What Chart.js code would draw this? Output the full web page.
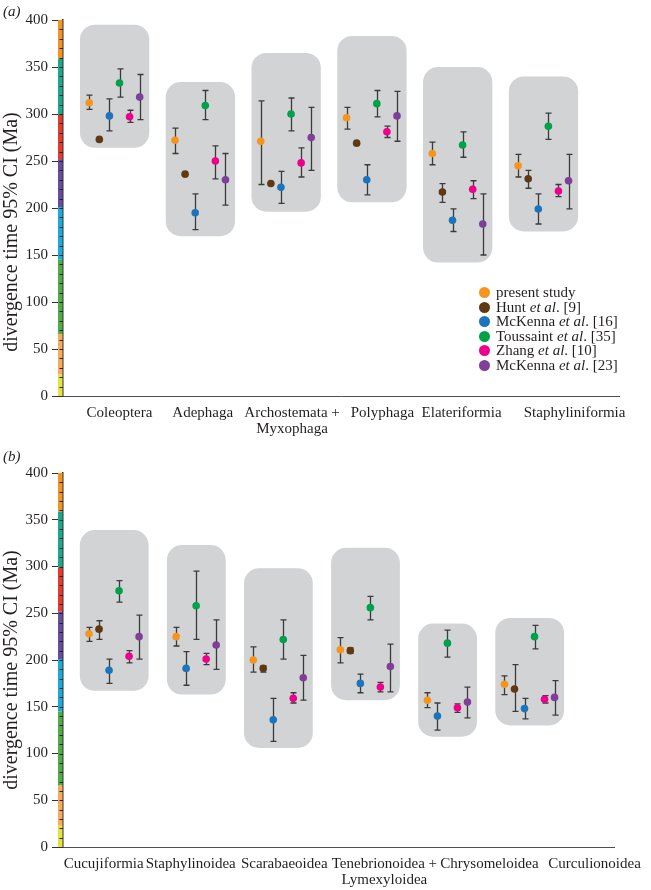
<!DOCTYPE html>
<html><head><meta charset="utf-8">
<script src="https://cdn.jsdelivr.net/npm/chart.js@4/dist/chart.umd.min.js"></script>
<style>
html,body{margin:0;padding:0;background:#fff;}
body{width:651px;height:890px;position:relative;overflow:hidden;font-family:"Liberation Serif","Times New Roman",serif;color:#231F20;}
.panel{position:absolute;left:0;width:651px;height:445px;}
#pa{top:0}#pb{top:445px}
.tag{position:absolute;left:3px;font-style:italic;font-size:15px;line-height:15px;}
#legend{position:absolute;left:0;top:0;font-size:15px;}
#legend .row{position:absolute;left:479px;white-space:nowrap;line-height:15px;height:15px;}
#legend .dot{position:absolute;left:0;top:2px;width:11px;height:11px;border-radius:50%;}
#legend .txt{position:absolute;left:17px;top:0;}
</style></head>
<body>
<div class="panel" id="pa"><canvas id="ca"></canvas></div>
<div class="panel" id="pb"><canvas id="cb"></canvas></div>
<div class="tag" style="top:4px">(a)</div>
<div class="tag" style="top:449px">(b)</div>
<div id="legend"></div>
<script>
// ---------- data ----------
const seriesHTML = ['present study','Hunt <i>et al</i>. [9]','McKenna <i>et al</i>. [16]','Toussaint <i>et al</i>. [35]','Zhang <i>et al</i>. [10]','McKenna <i>et al</i>. [23]'];
const seriesNames = ['present study','Hunt et al. [9]','McKenna et al. [16]','Toussaint et al. [35]','Zhang et al. [10]','McKenna et al. [23]'];
const seriesColors = ['#F7941D','#603913','#1C75BC','#00A14B','#EC008C','#7F3F98'];

// panel (a)
const catsA = ['Coleoptera','Adephaga',['Archostemata +','Myxophaga'],'Polyphaga','Elateriformia','Staphyliniformia'];
const presentA  = [312, 272, 271, 296, 258, 245];
const presentA_ci = [[305,320],[258,285],[225,314],[284,307],[246,270],[233,257]];
const huntA     = [273, 236, 226, 269, 217, 231];
const huntA_ci  = [null,null,null,null,[206,226],[221,240]];
const mck16A    = [298, 195, 222, 230, 187, 199];
const mck16A_ci = [[282,316],[177,215],[205,239],[214,246],[175,199],[183,215]];
const tousA     = [333, 309, 300, 311, 267, 287];
const tousA_ci  = [[318,348],[294,325],[282,317],[297,325],[254,281],[273,301]];
const zhangA    = [297, 250, 248, 281, 220, 218];
const zhangA_ci = [[291,304],[231,266],[233,264],[275,287],[210,229],[212,225]];
const mck23A    = [318, 230, 275, 298, 183, 229];
const mck23A_ci = [[294,342],[203,258],[240,307],[271,324],[150,215],[199,257]];
const rangeA    = [[264,395],[170,334],[196,365],[206,383],[142,350],[175,340]];

// panel (b)
const catsB = ['Cucujiformia','Staphylinoidea','Scarabaeoidea',['Tenebrionoidea +','Lymexyloidea'],'Chrysomeloidea','Curculionoidea'];
const presentB  = [228, 225, 200, 211, 157, 174];
const presentB_ci = [[220,235],[215,235],[187,214],[197,224],[149,165],[163,183]];
const huntB     = [233, null, 191, 210, null, 169];
const huntB_ci  = [[222,242],null,[187,194],[207,213],null,[145,195]];
const mck16B    = [189, 191, 136, 175, 140, 148];
const mck16B_ci = [[175,201],[173,209],[113,159],[165,185],[125,154],[137,159]];
const tousB     = [274, 258, 222, 256, 218, 225];
const tousB_ci  = [[262,285],[222,295],[201,243],[243,268],[203,232],[212,237]];
const zhangB    = [204, 201, 159, 171, 149, 158];
const zhangB_ci = [[197,210],[195,207],[154,165],[166,176],[144,153],[154,162]];
const mck23B    = [225, 216, 181, 193, 155, 160];
const mck23B_ci = [[201,248],[190,243],[157,205],[166,217],[138,171],[141,178]];
const rangeB    = [[167,339],[163,323],[106,298],[157,320],[118,239],[130,245]];

// y ticks and geological time scale (Ma boundaries) for the colour bar
const yTicks = [0,50,100,150,200,250,300,350,400];
const geoBounds = [0, 23, 66, 145, 201, 252, 299, 359, 400];
const geoColors = ['#E6E23A','#F9AC55','#4EAE45','#17ADDB','#6A4C9E','#E9392C','#19A98D','#F7941D'];
const yTitle = 'divergence time 95% CI (Ma)';

// ---------- layout (not data) ----------
const FONT = '"Liberation Serif","Times New Roman",serif';
const TEXT = '#231F20';
const labelShiftA = [0.5, 0.25, 0.6, 1.05, 0.4, 3.1];
const labelShiftB = [-1.04, -0.54, 0.6, 1.9, 4.2, 6.5];

function buildPanel(cats, means, cis, ranges, gap, shifts, titleShift) {
  const nG = cats.length, nS = means.length;
  const xs = means.map(() => new Array(nG).fill(null));
  const first = [], last = [];
  let cur = 0;
  for (let g = 0; g < nG; g++) {
    let k = 0;
    for (let s = 0; s < nS; s++) {
      if (means[s][g] == null) continue;
      xs[s][g] = cur + k; k++;
    }
    first[g] = cur; last[g] = cur + k - 1;
    cur = last[g] + gap;
  }
  const labelPos = first.map((f, g) => (f + last[g]) / 2 + shifts[g]);
  return {cats, means, cis, ranges, xs, first, last, labelPos, titleShift};
}

const PA = buildPanel(catsA, [presentA,huntA,mck16A,tousA,zhangA,mck23A],
  [presentA_ci,huntA_ci,mck16A_ci,tousA_ci,zhangA_ci,mck23A_ci], rangeA, 3.5, labelShiftA, 24);
const PB = buildPanel(catsB, [presentB,huntB,mck16B,tousB,zhangB,mck23B],
  [presentB_ci,huntB_ci,mck16B_ci,tousB_ci,zhangB_ci,mck23B_ci], rangeB, 3.7, labelShiftB, 10);

function decor(P) {
  return {
    id: 'decor',
    beforeDatasetsDraw(chart) {
      const {ctx, scales: {x, y}} = chart;
      ctx.save();
      ctx.fillStyle = '#D1D3D4';
      P.cats.forEach((c, g) => {
        const [lo, hi] = P.ranges[g];
        const x0 = x.getPixelForValue(P.first[g] - 0.92), x1 = x.getPixelForValue(P.last[g] + 0.95);
        const y0 = y.getPixelForValue(hi), y1 = y.getPixelForValue(lo);
        ctx.beginPath(); ctx.roundRect(x0, y0, x1 - x0, y1 - y0, 15); ctx.fill();
      });
      ctx.strokeStyle = '#3A3A3A'; ctx.lineWidth = 1.3;
      P.cis.forEach((arr, s) => arr.forEach((ci, g) => {
        if (!ci || P.xs[s][g] == null) return;
        const px = Math.round(x.getPixelForValue(P.xs[s][g])) + 0.5;
        const yl = y.getPixelForValue(ci[0]), yh = y.getPixelForValue(ci[1]);
        ctx.beginPath();
        ctx.moveTo(px, yl); ctx.lineTo(px, yh);
        ctx.moveTo(px - 3, yl); ctx.lineTo(px + 3, yl);
        ctx.moveTo(px - 3, yh); ctx.lineTo(px + 3, yh);
        ctx.stroke();
      }));
      ctx.restore();
    },
    afterDraw(chart) {
      const {ctx, scales: {y}} = chart;
      const xr = y.right;
      ctx.save();
      for (let i = 0; i < geoColors.length; i++) {
        const ya = y.getPixelForValue(geoBounds[i]), yb = y.getPixelForValue(geoBounds[i + 1]);
        ctx.fillStyle = geoColors[i];
        ctx.fillRect(xr - 5, yb, 4.5, ya - yb);
      }
      ctx.strokeStyle = '#222'; ctx.lineWidth = 1;
      for (let v = 10; v < 400; v += 10) {
        const py = Math.round(y.getPixelForValue(v)) + 0.5;
        ctx.beginPath(); ctx.moveTo(xr - 3.5, py); ctx.lineTo(xr, py); ctx.stroke();
      }
      // y-axis title
      ctx.translate(12, (y.top + y.bottom) / 2 + P.titleShift);
      ctx.rotate(-Math.PI / 2);
      ctx.fillStyle = TEXT;
      ctx.font = '20px ' + FONT;
      ctx.textAlign = 'center'; ctx.textBaseline = 'middle';
      ctx.fillText(yTitle, 0, 0);
      ctx.restore();
    }
  };
}

function makeChart(id, P, padTop, xHeight) {
  const datasets = P.means.map((m, s) => ({
    label: seriesNames[s],
    data: m.map((v, g) => v == null ? null : {x: P.xs[s][g], y: v}).filter(d => d),
    backgroundColor: seriesColors[s],
    borderWidth: 0,
    pointRadius: 3.8,
    pointHoverRadius: 3.8
  }));
  return new Chart(document.getElementById(id), {
    type: 'scatter',
    data: {datasets},
    plugins: [decor(P)],
    options: {
      animation: false, responsive: true, maintainAspectRatio: false, devicePixelRatio: 1,
      layout: {padding: {left: 0, right: 32, top: padTop, bottom: 0}},
      plugins: {legend: {display: false}, tooltip: {enabled: false}},
      scales: {
        x: {
          type: 'linear', min: -2.6, max: 52.5,
          afterFit(s) { s.height = xHeight; },
          afterBuildTicks(s) { s.ticks = P.labelPos.map(v => ({value: v})); },
          ticks: {autoSkip: false, maxRotation: 0, minRotation: 0, padding: 9, color: TEXT,
                  font: {family: FONT, size: 15, lineHeight: 1.07},
                  callback: (v, i) => P.cats[i]},
          grid: {display: true, drawOnChartArea: false, drawTicks: false},
          border: {display: true, color: '#4D4D4D', width: 1}
        },
        y: {
          min: 0, max: 400,
          afterFit(s) { s.width = 63; },
          afterBuildTicks(s) { s.ticks = yTicks.map(v => ({value: v})); },
          ticks: {color: TEXT, padding: 4, font: {family: FONT, size: 15}},
          grid: {drawOnChartArea: false, drawTicks: true, tickLength: 11, tickColor: '#333', tickWidth: 1},
          border: {display: true, color: '#333', width: 1.5},
          title: {display: false}
        }
      }
    }
  });
}

makeChart('ca', PA, 20, 49);
makeChart('cb', PB, 28, 43);

// legend (panel a)
const legendRowsTop = 285, legendRowStep = 14.6;
const lg = document.getElementById('legend');
seriesHTML.forEach((h, i) => {
  const r = document.createElement('div');
  r.className = 'row';
  r.style.top = (legendRowsTop + i * legendRowStep) + 'px';
  r.innerHTML = '<span class="dot" style="background:' + seriesColors[i] + '"></span><span class="txt">' + h + '</span>';
  lg.appendChild(r);
});
</script>
</body></html>
